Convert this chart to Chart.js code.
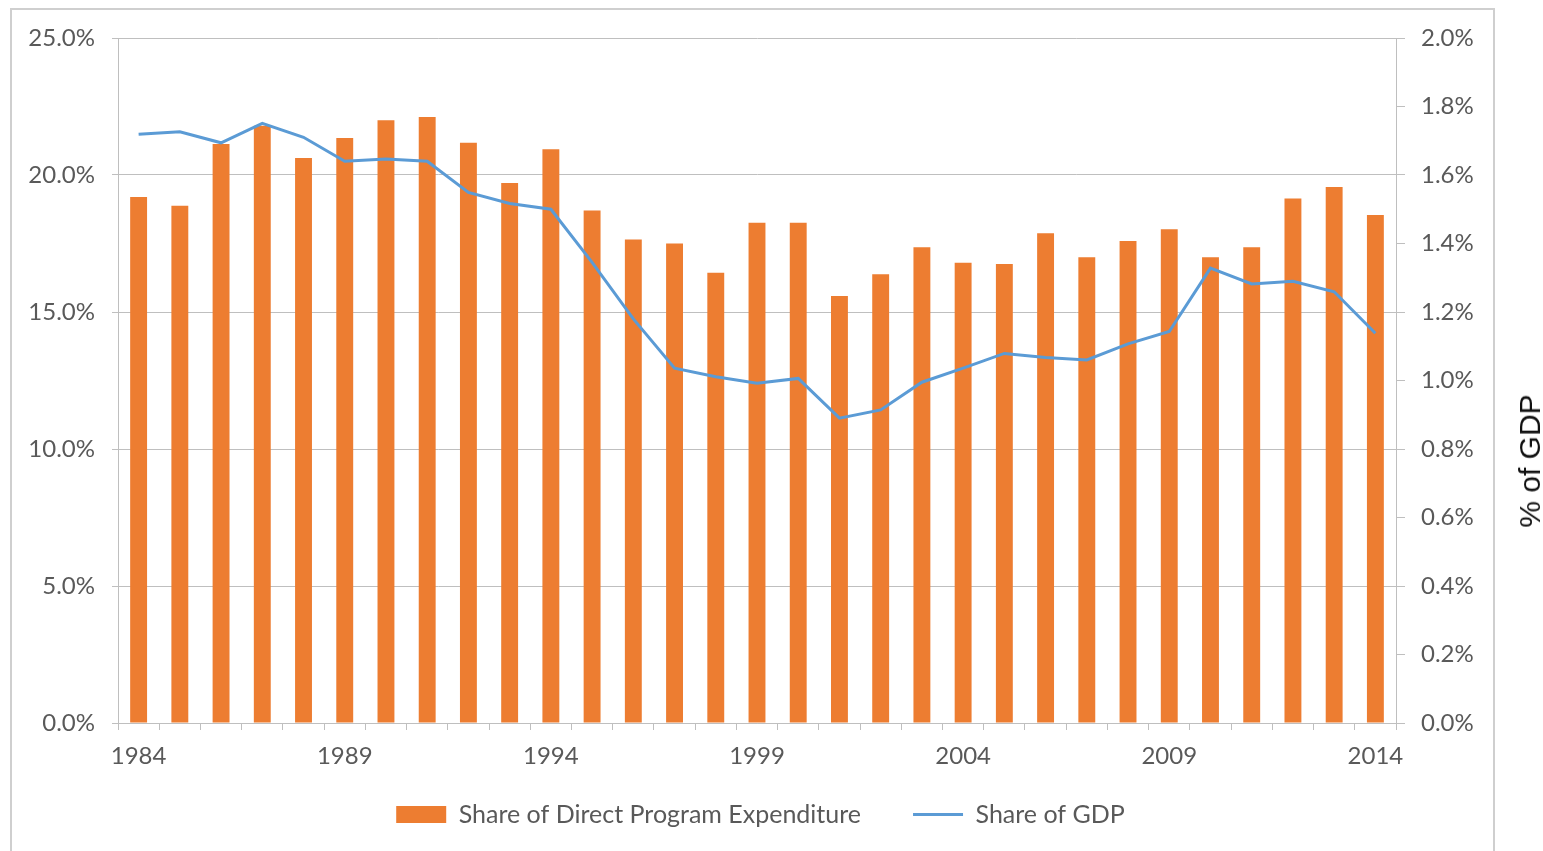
<!DOCTYPE html>
<html>
<head>
<meta charset="utf-8">
<script src="https://cdn.jsdelivr.net/npm/chart.js@4.4.1/dist/chart.umd.min.js"></script>
<style>
  html, body { margin: 0; padding: 0; background: #ffffff; overflow: hidden; width: 1543px; height: 851px; }
  #frame { position: absolute; left: 10px; top: 8px; width: 1481px; height: 880px; border: 2px solid #cfcfcf; box-sizing: content-box; }
  #c { position: absolute; left: 0; top: 0; }
  #rtitle { position: absolute; left: 1530px; top: 461px; transform: translate(-50%, -50%) rotate(-90deg);
            font-family: "Liberation Sans", Arial, sans-serif; font-size: 30px; color: #111; white-space: nowrap; }
</style>
</head>
<body>
<div id="frame"></div>
<canvas id="c" width="1543" height="837"></canvas>
<div id="rtitle">% of GDP</div>
<script>
// ---- data ----
const years = ['1984','1985','1986','1987','1988','1989','1990','1991','1992','1993','1994',
               '1995','1996','1997','1998','1999','2000','2001','2002','2003','2004',
               '2005','2006','2007','2008','2009','2010','2011','2012','2013','2014'];
const expenditureShare = [19.2, 18.88, 21.13, 21.8, 20.62, 21.35, 22.0, 22.12, 21.18, 19.71, 20.94,
                          18.7, 17.65, 17.5, 16.43, 18.26, 18.26, 15.58, 16.38, 17.36, 16.8,
                          16.75, 17.87, 17.0, 17.59, 18.02, 17.0, 17.36, 19.14, 19.56, 18.54];
const gdpShare = [1.719, 1.726, 1.694, 1.751, 1.710, 1.640, 1.647, 1.640, 1.549, 1.517, 1.500,
                  1.345, 1.18, 1.036, 1.011, 0.992, 1.006, 0.890, 0.914, 0.995, 1.036,
                  1.079, 1.067, 1.060, 1.107, 1.143, 1.328, 1.282, 1.290, 1.259, 1.138];
const xTickYears = ['1984','1989','1994','1999','2004','2009','2014'];
const seriesNames = ['Share of Direct Program Expenditure', 'Share of GDP'];
const rightAxisTitle = '% of GDP';

const ORANGE = '#ED7D31', BLUE = '#5B9BD5', GRID = '#bfbfbf', TXT = '#595959';
const tickFont = { family: 'Lato', size: 24 };

document.getElementById('rtitle').textContent = rightAxisTitle;

function draw() {
  new Chart(document.getElementById('c'), {
    type: 'bar',
    data: {
      labels: years,
      datasets: [
        { type: 'bar', label: seriesNames[0], data: expenditureShare, yAxisID: 'y',
          backgroundColor: ORANGE, borderWidth: 0, categoryPercentage: 1.0, barPercentage: 0.41,
          pointStyle: 'rect', order: 1 },
        { type: 'line', label: seriesNames[1], data: gdpShare, yAxisID: 'y1',
          borderColor: BLUE, backgroundColor: BLUE, borderWidth: 3, pointRadius: 0,
          tension: 0, pointStyle: 'line', order: 0 }
      ]
    },
    options: {
      responsive: false,
      animation: false,
      devicePixelRatio: 1,
      layout: { padding: { top: 38, left: 0, right: 22, bottom: 0 } },
      plugins: {
        tooltip: { enabled: false },
        legend: {
          position: 'bottom',
          labels: { usePointStyle: true, pointStyleWidth: 50, boxHeight: 17, padding: 52,
                    font: { family: 'Lato', size: 25 }, color: TXT,
                    sort: (a, b) => a.datasetIndex - b.datasetIndex }
        }
      },
      scales: {
        x: {
          offset: true,
          grid: { offset: true, drawOnChartArea: false, drawTicks: true, tickLength: 7, color: GRID },
          border: { color: GRID, width: 1 },
          ticks: { autoSkip: false, maxRotation: 0, minRotation: 0, mirror: true, padding: -48,
                   font: tickFont, color: TXT,
                   callback: function (v) { const l = this.getLabelForValue(v); return xTickYears.includes(l) ? l : ''; } },
          afterFit: s => { s.height = 27; }
        },
        y: {
          position: 'left', min: 0, max: 25,
          grid: { color: GRID, tickLength: 6 },
          border: { color: GRID, width: 1 },
          ticks: { stepSize: 5, padding: 17, font: tickFont, color: TXT, callback: v => v.toFixed(1) + '%' },
          afterFit: s => { s.width = 118; }
        },
        y1: {
          position: 'right', min: 0, max: 2,
          grid: { drawOnChartArea: false, color: GRID, tickLength: 9 },
          border: { color: GRID, width: 1 },
          ticks: { stepSize: 0.2, padding: 16, font: tickFont, color: TXT, callback: v => v.toFixed(1) + '%' },
          afterFit: s => { s.width = 125; }
        }
      }
    }
  });
}
if (document.fonts && document.fonts.load) {
  Promise.all([document.fonts.load('24px Lato'), document.fonts.load('30px "Liberation Sans"')]).then(draw, draw);
} else { draw(); }
</script>
</body>
</html>
